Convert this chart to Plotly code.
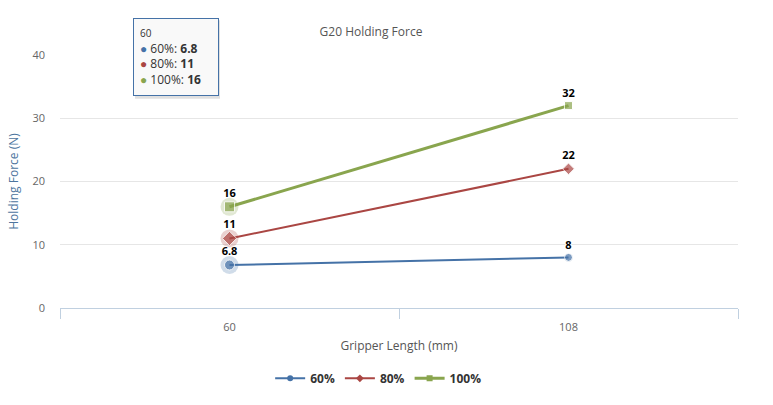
import plotly.graph_objects as go

categories = ["60", "108"]
series_names = ["60%", "80%", "100%"]
values_60 = [6.8, 8]
values_80 = [11, 22]
values_100 = [16, 32]
y_ticks = [0, 10, 20, 30, 40]

colors = ["#4572A7", "#AA4643", "#89A54E"]
symbols = ["circle", "diamond", "square"]
sizes = [8, 9, 8]
widths = [2, 2, 3]
all_values = [values_60, values_80, values_100]

FONT = "Open Sans, Segoe UI, sans-serif"
outline = "1px 0 1px #fff, -1px 0 1px #fff, 0 1px 1px #fff, 0 -1px 1px #fff"

x = list(range(len(categories)))
fig = go.Figure()

# hover halos on first category
for vals, c in zip(all_values, colors):
    fig.add_trace(go.Scatter(x=[x[0]], y=[vals[0]], mode="markers",
                             marker=dict(size=18, color=c, opacity=0.25),
                             showlegend=False, hoverinfo="skip"))

for name, vals, c, s, sz, w in zip(series_names, all_values, colors, symbols, sizes, widths):
    fig.add_trace(go.Scatter(
        x=x, y=vals, name=name, mode="lines+markers+text", legendgroup=name,
        line=dict(color=c, width=w),
        marker=dict(symbol=s, size=[sz + 2, sz], color=c),
        text=[f"{v:g}" for v in vals], textposition="top center",
        textfont=dict(family=FONT, size=11, color="#000", weight="bold", shadow=outline),
        hoverinfo="skip", showlegend=False,
    ))
    # legend entry with small marker
    fig.add_trace(go.Scatter(
        x=[None], y=[None], name=name, mode="lines+markers", legendgroup=name,
        line=dict(color=c, width=w), marker=dict(symbol=s, size=6, color=c),
        hoverinfo="skip", showlegend=True,
    ))

tooltip = ("<span style='font-size:10px'>" + categories[0] + "</span><br>" +
           "<br>".join(f"<span style='color:{c}'>●</span> {n}: <b>{v[0]:g}</b>"
                       for n, v, c in zip(series_names, all_values, colors)))

# tooltip shadow
fig.add_shape(type="rect", xref="paper", yref="paper",
              x0=(135 - 60) / 678, x1=(220 - 60) / 678,
              y0=(310 - 99) / 255, y1=(310 - 20) / 255,
              line=dict(width=0), fillcolor="rgba(0,0,0,0.12)", layer="above")
fig.add_annotation(xref="paper", yref="paper", x=(133 - 60) / 678, y=(310 - 18) / 255,
                   xanchor="left", yanchor="top", align="left", showarrow=False,
                   text=tooltip, font=dict(family=FONT, size=12, color="#333"),
                   bgcolor="rgb(249,249,249)", bordercolor="#4572A7",
                   borderwidth=1, borderpad=6, width=72, height=64, valign="middle")

fig.update_layout(
    width=773, height=405,
    margin=dict(l=60, r=35, t=55, b=95),
    paper_bgcolor="#fff", plot_bgcolor="#fff",
    font=dict(family=FONT, color="#666"),
    title=dict(text="G20 Holding Force", x=371 / 773, xanchor="center", y=1 - 32 / 405,
               yanchor="middle", font=dict(size=12, color="#555", family=FONT)),
    xaxis=dict(range=[-0.5, 1.5], tickvals=x, ticktext=categories, ticks="",
               showgrid=False, zeroline=False, showline=True, linecolor="#C0D0E0",
               linewidth=1, tickfont=dict(size=11, color="#666"), automargin=False,
               ticklabelstandoff=9,
               minor=dict(tickvals=[-0.5, 0.5, 1.5], ticks="outside", ticklen=10,
                          tickcolor="#C0D0E0", showgrid=False),
               title=dict(text="Gripper Length (mm)", font=dict(size=12, color="#555"),
                          standoff=8)),
    yaxis=dict(range=[0, 40], tickvals=y_ticks, showgrid=True, gridcolor="#e6e6e6",
               zeroline=False, showline=False, ticks="", ticklabelstandoff=14,
               tickfont=dict(size=11, color="#666"), automargin=False,
               title=dict(text="Holding Force (N)", font=dict(size=12, color="#4d759e"),
                          standoff=11)),
    legend=dict(orientation="h", x=0.47, xanchor="center", y=-0.278, yanchor="middle",
                font=dict(size=12, color="#333", weight="bold"), itemwidth=30,
                traceorder="normal"),
    showlegend=True,
)

fig.write_html("out.html", post_script="document.body.style.margin='0';",
               config={"displayModeBar": False})
